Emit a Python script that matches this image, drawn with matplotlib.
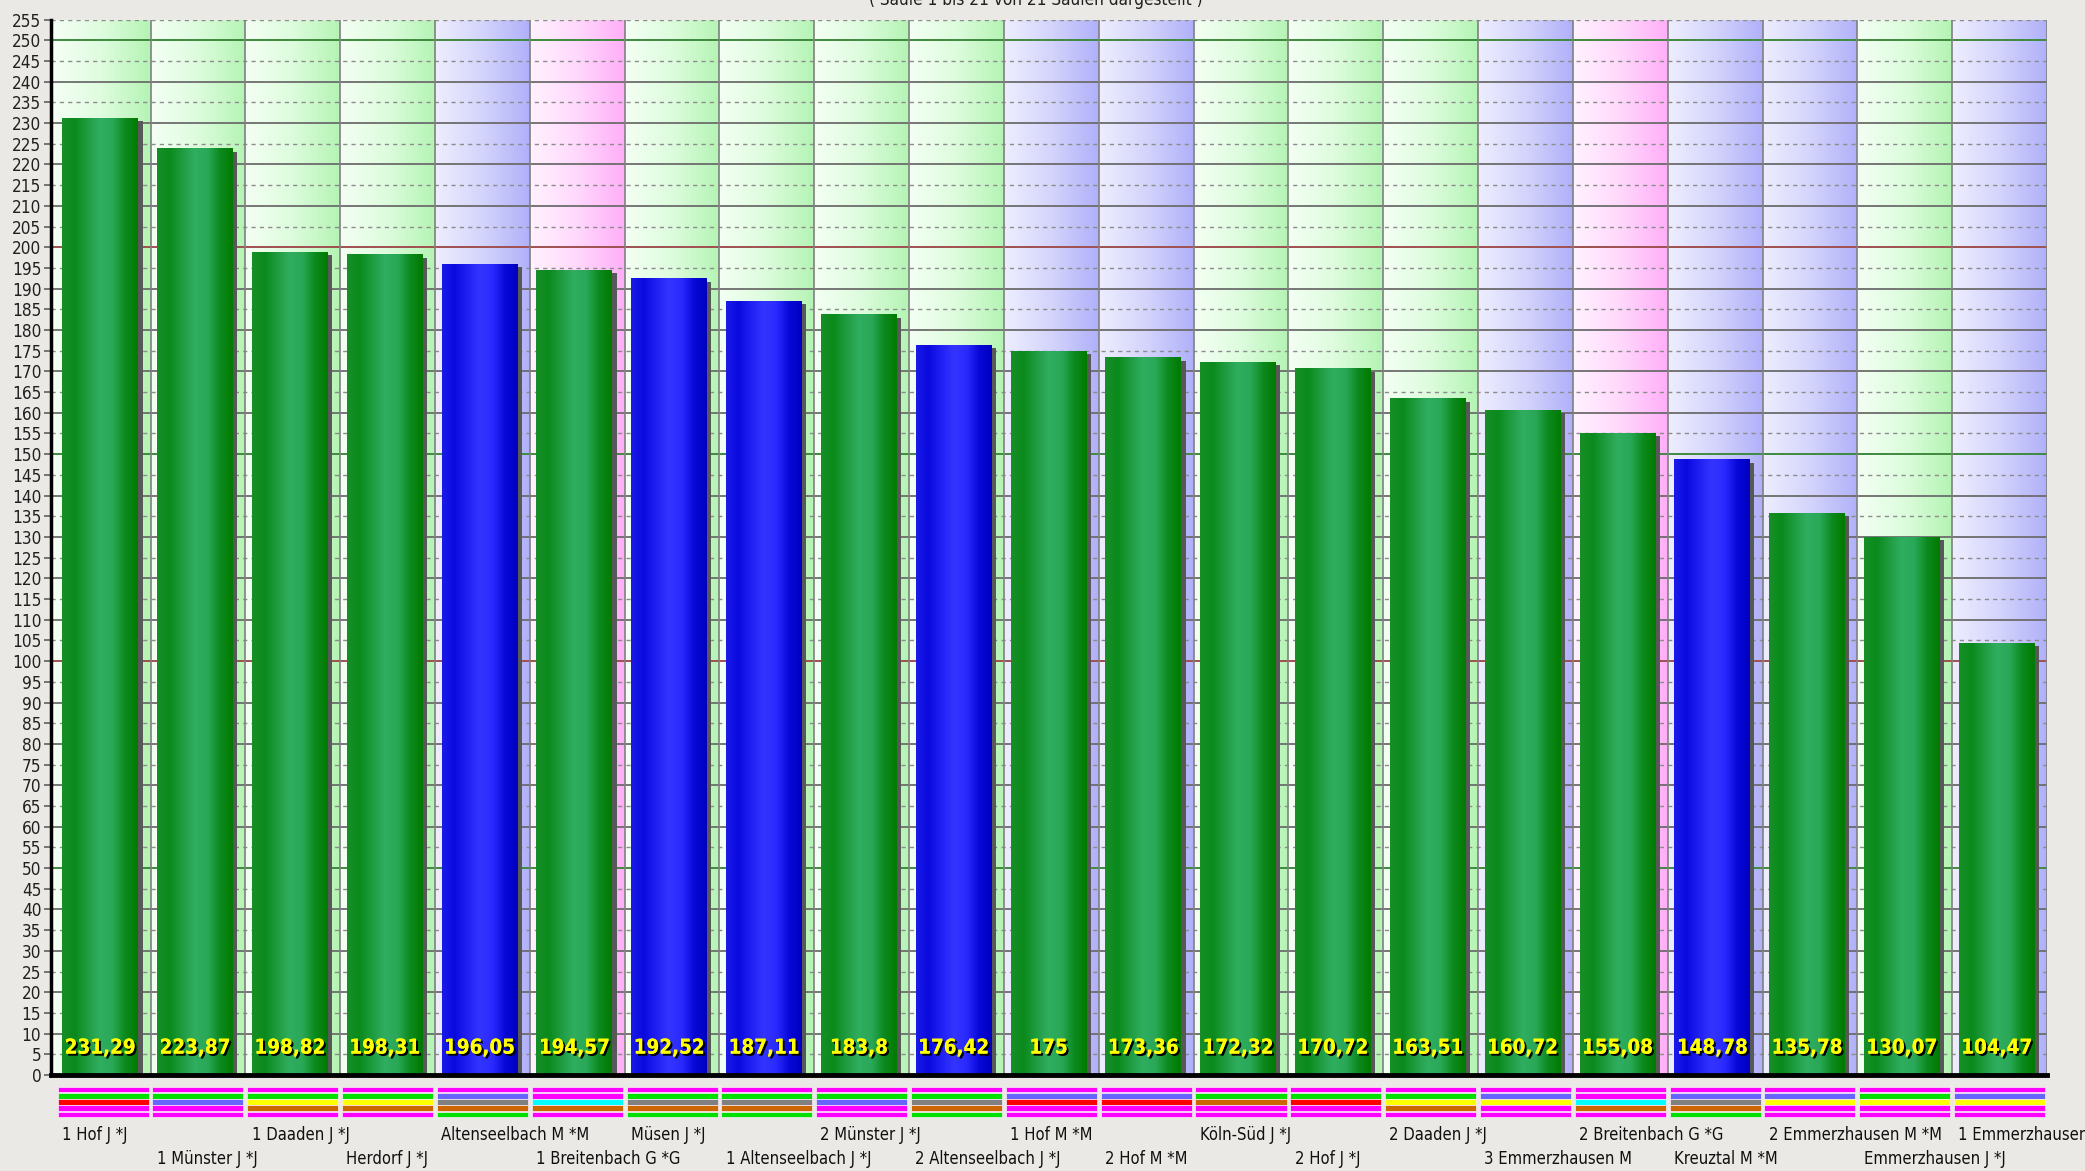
import matplotlib
matplotlib.use("Agg")
import matplotlib.pyplot as plt
import matplotlib.patheffects as pe
import matplotlib.transforms as mtransforms
from matplotlib import font_manager as fm
from matplotlib.colors import LinearSegmentedColormap
from matplotlib.patches import Rectangle
import numpy as np

# ---- data -----------------------------------------------------------------
namen = [
    "1 Hof J *J", "1 Münster J *J", "1 Daaden J *J", "Herdorf J *J",
    "Altenseelbach M *M", "1 Breitenbach G *G", "Müsen J *J",
    "1 Altenseelbach J *J", "2 Münster J *J", "2 Altenseelbach J *J",
    "1 Hof M *M", "2 Hof M *M", "Köln-Süd J *J", "2 Hof J *J",
    "2 Daaden J *J", "3 Emmerzhausen M", "2 Breitenbach G *G",
    "Kreuztal M *M", "2 Emmerzhausen M *M", "Emmerzhausen J *J",
    "1 Emmerzhausen M *M",
]
werte = [231.29, 223.87, 198.82, 198.31, 196.05, 194.57, 192.52, 187.11,
         183.8, 176.42, 175, 173.36, 172.32, 170.72, 163.51, 160.72,
         155.08, 148.78, 135.78, 130.07, 104.47]
wert_texte = ["231,29", "223,87", "198,82", "198,31", "196,05", "194,57",
              "192,52", "187,11", "183,8", "176,42", "175", "173,36",
              "172,32", "170,72", "163,51", "160,72", "155,08", "148,78",
              "135,78", "130,07", "104,47"]
# background group of each column (J / M / G)
gruppen = ["J", "J", "J", "J", "M", "G", "J", "J", "J", "J", "M", "M",
           "J", "J", "J", "M", "G", "M", "M", "J", "M"]
# bar colour: g = green, b = blue
balken_farbe = ["g", "g", "g", "g", "b", "g", "b", "b", "g", "b", "g", "g",
                "g", "g", "g", "g", "g", "b", "g", "g", "g"]
# the five colour stripes below each column (top to bottom)
streifen = [
    "mgrmm", "mgvmm", "mgyom", "mgyom", "mvaog", "mmcom", "mgaog",
    "mgaog", "mgvmm", "mgaog", "mvrmm", "mvrmm", "mgomm", "mgrmm",
    "mgyom", "mvymm", "mmcom", "mvaog", "mvymm", "mgymm", "mvymm",
]

# ---- styles ---------------------------------------------------------------
STREIFEN_FARBEN = {"m": "#ff00ff", "g": "#00e000", "r": "#ff0000",
                   "v": "#6666ff", "y": "#ffff00", "o": "#cc6600",
                   "a": "#808080", "c": "#00ffff"}
HINTERGRUND = {"J": ["#f4fff4", "#ddfcdd", "#b4f4b4"],
               "M": ["#eeeeff", "#d4d4fc", "#b0b0fa"],
               "G": ["#fff2ff", "#ffd8fc", "#ffaef8"]}
BALKEN = {"g": ["#178f27", "#0a8a1c", "#1f9c40", "#30ae60", "#2aa858",
                "#0c8a1e", "#007a00"],
          "b": ["#1a1ae8", "#0a0ae0", "#2020f4", "#3434ff", "#2a2aff",
                "#0808d8", "#0000c0"]}

# a narrow font, like the original Windows chart
_fonts = fm.fontManager.ttflist
if any(f.name == "Liberation Sans Narrow" for f in _fonts):
    FONT = dict(family="Liberation Sans Narrow")
    skala = 1.05
elif any(f.name == "DejaVu Sans" and f.stretch == "condensed" for f in _fonts):
    FONT = dict(family="DejaVu Sans", stretch="condensed")
    skala = 0.95
else:
    FONT = dict(family="Liberation Sans")
    skala = 0.9

W, H = 2085, 1171
fig = plt.figure(figsize=(W / 100, H / 100), dpi=100, facecolor="#ebe9e5")
ax_l, ax_r, ax_t, ax_b = 51, 2047, 19.6, 1075
ax = fig.add_axes([ax_l / W, (H - ax_b) / H, (ax_r - ax_l) / W, (ax_b - ax_t) / H])

n = len(werte)
x0 = -0.05
grad = np.linspace(0, 1, 256).reshape(1, -1)

# column backgrounds
for i, g in enumerate(gruppen):
    cm = LinearSegmentedColormap.from_list("bg", HINTERGRUND[g])
    ax.imshow(grad, extent=[i, i + 1, 0, 255], cmap=cm, aspect="auto",
              zorder=0, interpolation="bilinear")
ax.axvspan(x0, 0, color="#f4fff4", zorder=0)

# horizontal grid
for v in range(5, 256, 5):
    if v % 100 == 0:
        ax.axhline(v, color="#a05050", lw=1.4, zorder=1)
    elif v % 50 == 0:
        ax.axhline(v, color="#3e8a3e", lw=1.4, zorder=1)
    elif v % 10 == 0:
        ax.axhline(v, color="#6c6c6c", lw=1.3, zorder=1)
    else:
        ax.axhline(v, color="#8c8c8c", lw=1.0, ls=(0, (3, 3)), zorder=1)
ax.vlines(np.arange(1, n + 1), 0, 255, color="#808080", lw=1.2, zorder=1)

# bars with cylinder shading and a drop shadow
xs = np.arange(n)
bw = 0.80
off = 0.07
ax.bar(xs + off + 0.045, np.array(werte) - 0.8, width=bw, align="edge",
       color="#585858", zorder=2)
bars = ax.bar(xs + off, werte, width=bw, align="edge", color="none", zorder=3)
for b, c in zip(bars, balken_farbe):
    cm = LinearSegmentedColormap.from_list("bar", BALKEN[c])
    im = ax.imshow(grad, extent=[b.get_x(), b.get_x() + b.get_width(), 0,
                                 b.get_height()],
                   cmap=cm, aspect="auto", zorder=3, interpolation="bilinear")
    im.set_clip_path(b)

ax.set_xlim(x0, n)
ax.set_ylim(0, 255)

schatten = [pe.withSimplePatchShadow(offset=(1.5, -1.5),
                                     shadow_rgbFace="black", alpha=1.0),
            pe.Normal()]
for i, t in enumerate(wert_texte):
    ax.text(i + off + bw / 2, 6.5, t, ha="center", va="center",
            color="#ffff00", fontsize=15.5 * skala, fontweight="bold",
            zorder=5, path_effects=schatten, **FONT)

# axes styling
for s in ["top", "right"]:
    ax.spines[s].set_visible(False)
ax.spines["left"].set_linewidth(2.5)
ax.spines["bottom"].set_linewidth(3.5)
ax.spines["left"].set_zorder(6)
ax.spines["bottom"].set_zorder(6)
ax.set_xticks([])
ax.set_yticks(range(0, 256, 5))
ax.tick_params(axis="y", length=5, width=1.2, color="#606060", pad=2)
for lab in ax.get_yticklabels():
    lab.set_fontproperties(fm.FontProperties(size=13 * skala, **FONT))
    lab.set_color("#202020")

# category labels, staggered on two rows
trans = mtransforms.blended_transform_factory(ax.transData, ax.transAxes)
for i, name in enumerate(namen):
    ypix = 1135 if i % 2 == 0 else 1158.5
    ax.text(i + off - 0.005, (ax_b - ypix) / (ax_b - ax_t), name,
            transform=trans, ha="left", va="center", fontsize=12.5 * skala,
            color="#101010", clip_on=False, **FONT)

# colour stripes below the bars
ax2 = fig.add_axes([ax_l / W, (H - 1117.5) / H, (ax_r - ax_l) / W, 31 / H])
ax2.set_xlim(x0, n)
ax2.set_ylim(0, 5)
ax2.axis("off")
for i, code in enumerate(streifen):
    for k, ch in enumerate(code):
        ax2.add_patch(Rectangle((i + 0.02, 4 - k + 0.06), 0.96, 0.88,
                                facecolor=STREIFEN_FARBEN[ch],
                                edgecolor="#fbeefb", lw=0.5))

fig.text(1036 / W, 1 - 5 / H, "( Säule 1 bis 21 von 21 Säulen dargestellt )",
         ha="center", va="baseline", fontsize=13 * skala, color="#202020",
         **FONT)

fig.savefig("out.png", dpi=100, facecolor=fig.get_facecolor())
